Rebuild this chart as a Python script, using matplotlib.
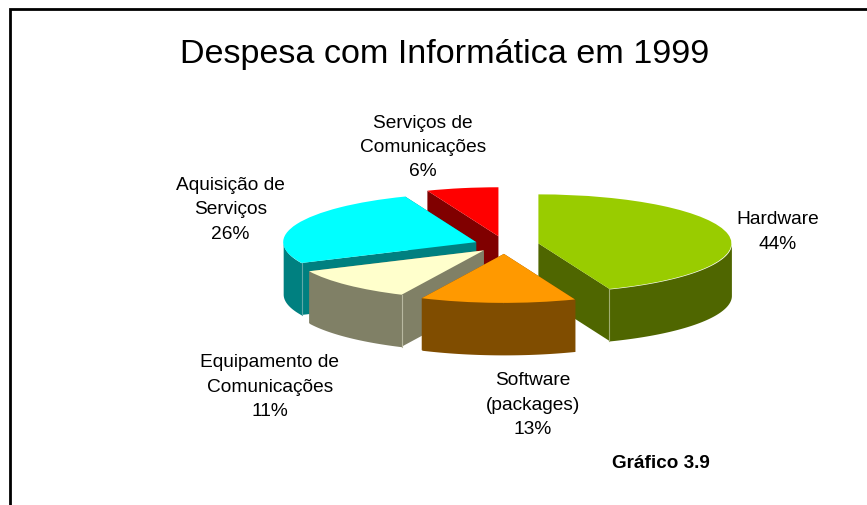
import numpy as np
import matplotlib
matplotlib.use("Agg")
import matplotlib.pyplot as plt
from matplotlib.lines import Line2D

W, H = 867, 506

# pie order, clockwise from 12 o'clock
CATEGORIES = ["Hardware", "Software\n(packages)", "Equipamento de\nComunicações",
              "Aquisição de\nServiços", "Serviços de\nComunicações"]
SHARES = [44, 13, 11, 26, 6]

TOP_COLORS = ["#99CC00", "#FF9900", "#FFFFCC", "#00FFFF", "#FF0000"]
SIDE_COLORS = ["#4F6600", "#804D00", "#808066", "#008080", "#800000"]
EDGE_COLORS = ["#A0AE70", "#B09060", "#B8B8A0", "#60A8A8", "#B06060"]

EXPLODE_PX = [34, 35, 30, 31, 35]
# back to front
PAINT_ORDER = [4, 3, 0, 2, 1]

LABEL_POS = [(778, 232), (533, 405), (270, 387), (230.5, 210), (423, 147.5)]

# pie geometry in pixels: squashed ellipse plus extruded depth
CX, CY = 505, 246
RX, RY = 193, 49
DEPTH = 52 / RY

plt.rcParams["font.family"] = ["Liberation Sans", "DejaVu Sans"]

fig = plt.figure(figsize=(W / 100, H / 100), dpi=100, facecolor="white")
ax = fig.add_axes([0, 0, 1, 1])

wedges, _ = ax.pie(
    SHARES,
    explode=[e / RX for e in EXPLODE_PX],
    colors=TOP_COLORS,
    startangle=90,
    counterclock=False,
    radius=1,
    frame=True,
    wedgeprops={"linewidth": 0},
)

ax.set_aspect("auto")
ax.set_xlim(-CX / RX, (W - CX) / RX)
ax.set_ylim(-(H - CY) / RY, CY / RY)
ax.axis("off")

for z, i in enumerate(PAINT_ORDER):
    w = wedges[i]
    cx, cy = w.center
    t = np.radians(np.linspace(w.theta1, w.theta2, 720))
    rim_x = cx + w.r * np.cos(t)
    rim_y = cy + w.r * np.sin(t)
    side = SIDE_COLORS[i]
    base = 10 + z * 3

    # outer wall, front-facing part only
    front = np.sin(t) <= 0
    if front.any():
        order = np.argsort(rim_x[front])
        ax.fill_between(rim_x[front][order], rim_y[front][order],
                        rim_y[front][order] - DEPTH, color=side, lw=0, zorder=base)

    # the two radial faces, plus the corner line where both faces show
    for end, nxt in ((0, 1), (-1, -2)):
        px, py = rim_x[end], rim_y[end]
        ax.fill([cx, px, px, cx], [cy, py, py - DEPTH, cy - DEPTH],
                color=side, lw=0, zorder=base)
        if py < cy and (rim_x[nxt] - px) * (cx - px) < 0:
            ax.plot([px, px], [py, py - DEPTH], color=EDGE_COLORS[i], lw=0.8,
                    zorder=base + 1)
    w.set_zorder(base + 2)


def px_text(x, y, s, **kw):
    fig.text(x / W, 1 - y / H, s, ha="center", va="center", color="black", **kw)


px_text(445, 55, "Despesa com Informática em 1999", fontsize=24.6)
for name, share, (x, y) in zip(CATEGORIES, SHARES, LABEL_POS):
    px_text(x, y, f"{name}\n{share}%", fontsize=13.8, linespacing=1.54)
px_text(661, 463, "Gráfico 3.9", fontsize=13.6, fontweight="bold")

# slide frame: only top and left edges are inside the crop
fig.add_artist(Line2D([1, 9.5 / W, 9.5 / W], [1 - 10 / H, 1 - 10 / H, 0],
                      color="black", lw=2, solid_joinstyle="miter"))

fig.savefig("out.png", dpi=100, facecolor="white")
